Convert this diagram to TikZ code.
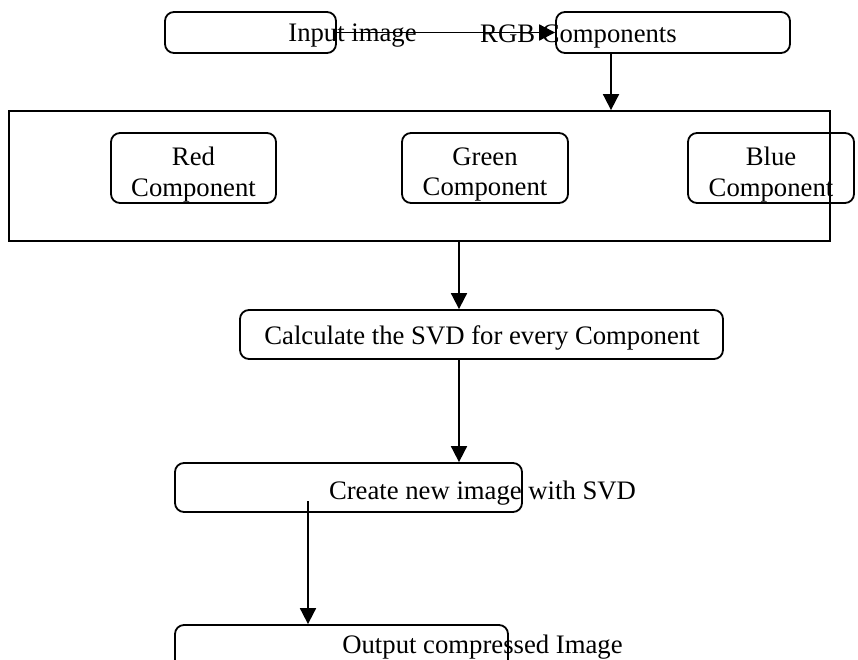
\documentclass[tikz,border=0pt]{standalone}
\usepackage{fontspec}
\setmainfont{Liberation Serif}
\usetikzlibrary{arrows.meta}

\tikzset{
  stage/.style={draw, line width=1.8pt, rounded corners=9pt, inner sep=0pt},
  frame/.style={draw, line width=1.8pt, inner sep=0pt},
  caption/.style={inner sep=0pt, align=center, font=\fontsize{26.7}{30.5}\selectfont},
  flow/.style={line width=1.8pt, -{Triangle[length=16pt,width=16pt]}}
}

\begin{document}
\begin{tikzpicture}[x=1pt, y=-1pt]
  \useasboundingbox (0,0) rectangle (858,659);
  \clip (0,0) rectangle (858,659);

  % top row
  \node[stage, minimum width=171pt, minimum height=41pt] (input) at (250.5,32.5) {};
  \node[caption] (inputtxt) at (352.5,36) {Input image};
  \node[stage, minimum width=234pt, minimum height=41pt] (rgb) at (673,32.5) {};
  \node[caption] (rgbtxt) at (578.5,36) {RGB Components};

  % component split
  \node[frame, minimum width=821pt, minimum height=130pt] (split) at (419.5,176) {};
  \node[stage, minimum width=165pt, minimum height=70pt] (red) at (193.5,168) {};
  \node[caption] at (193.5,174.5) {Red\\Component};
  \node[stage, minimum width=166pt, minimum height=70pt] (green) at (485,168) {};
  \node[caption] at (485,174.5) {Green\\Component};
  \node[stage, minimum width=166pt, minimum height=70pt] (blue) at (771,168) {};
  \node[caption] at (771,174.5) {Blue\\Component};

  % processing
  \node[stage, minimum width=483pt, minimum height=49pt] (svd) at (481.5,334.5) {};
  \node[caption] at (482,338) {Calculate the SVD for every Component};
  \node[stage, minimum width=347pt, minimum height=49pt] (create) at (348.5,487.5) {};
  \node[caption] (createtxt) at (482.5,493) {Create new image with SVD};
  \node[stage, minimum width=333pt, minimum height=70pt] (output) at (341.5,660) {};
  \node[caption] (outputtxt) at (482.5,647) {Output compressed Image};

  % connectors
  \draw[flow] (input.east) -- (rgb.west);
  \draw[flow] (rgb.south -| 611,0) -- (split.north -| 611,0);
  \draw[flow] (split.south -| 459,0) -- (svd.north -| 459,0);
  \draw[flow] (svd.south -| 459,0) -- (create.north -| 459,0);
  \coordinate (createout) at (308,501);
  \draw[flow] (createout) -- (createout |- output.north);
\end{tikzpicture}
\end{document}
